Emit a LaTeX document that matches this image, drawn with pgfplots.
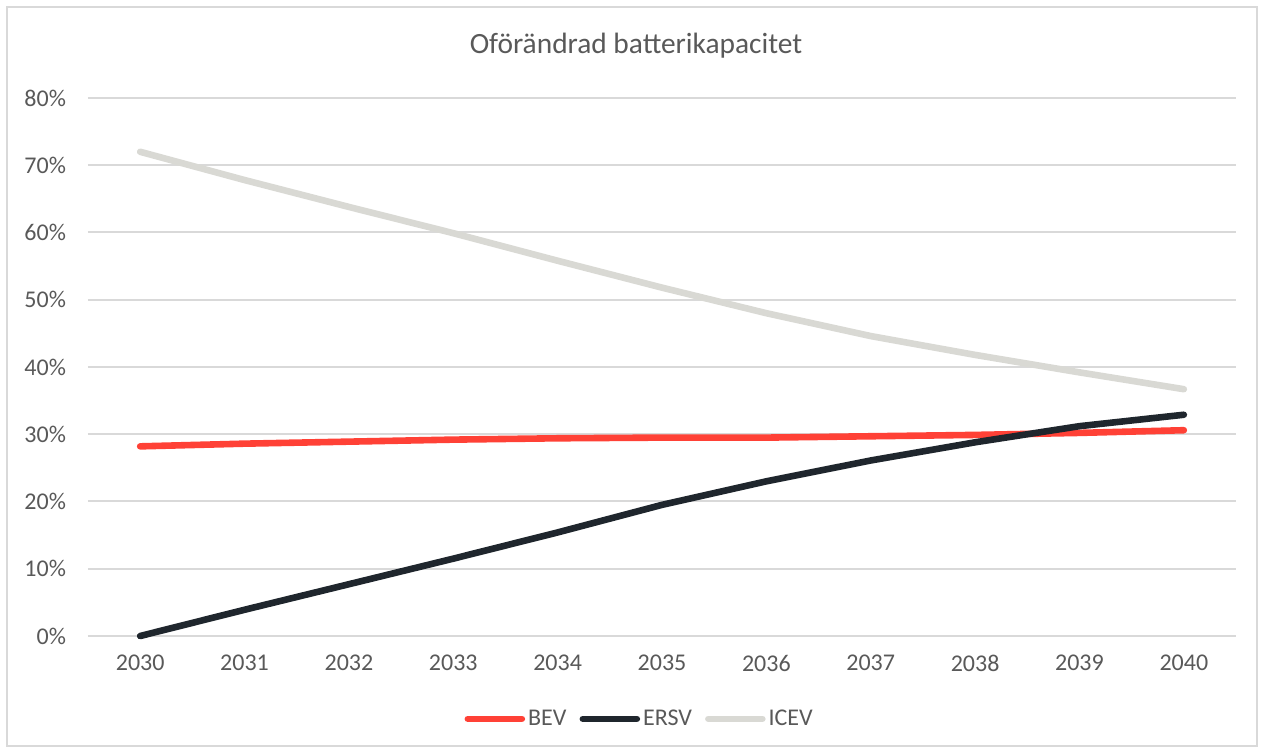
\documentclass[border=0pt]{standalone}
\usepackage{pgfplots}
\pgfplotsset{compat=1.18}
\usepackage{fontspec}
\setmainfont{Carlito}

\definecolor{txt}{HTML}{595959}
\definecolor{gridc}{HTML}{D9D9D9}
\definecolor{bevc}{HTML}{FF4136}
\definecolor{ersvc}{HTML}{1F262D}
\definecolor{icevc}{HTML}{D9D9D4}
\definecolor{framec}{HTML}{D9D9D9}

\pgfplotstableread{
x BEV ERSV ICEV
0 28.2 0.0 72.0
1 28.6 3.9 67.8
2 28.9 7.7 63.8
3 29.2 11.5 59.9
4 29.4 15.4 55.8
5 29.5 19.5 51.8
6 29.5 23.0 48.0
7 29.7 26.1 44.6
8 29.9 28.8 41.8
9 30.2 31.2 39.2
10 30.6 32.9 36.7
}\data

\begin{document}
\begin{tikzpicture}[x=1bp,y=1bp]
\begin{axis}[
  name=ax,
  scale only axis,
  width=574bp, height=269bp,
  xmin=-0.5, xmax=10.5,
  ymin=0, ymax=80,
  xtick={0,...,10},
  xticklabels={2030,2031,2032,2033,2034,2035,2036,2037,2038,2039,2040},
  ytick={0,10,...,80},
  yticklabel={\pgfmathprintnumber{\tick}\%},
  /pgf/number format/assume math mode=true,
  axis y line*=left,
  axis x line*=bottom,
  axis line style={gridc, line width=1bp},
  x axis line style={-},
  y axis line style={draw=none},
  major tick length=0pt,
  ymajorgrids,
  grid style={gridc, line width=1bp},
  tick label style={font=\fontsize{12bp}{14bp}\selectfont, text=txt},
  yticklabel style={xshift=-7.5bp},
  xticklabel style={yshift=-6bp},
  clip=false,
  legend columns=3,
  legend style={draw=none, fill=none, at={(0.481,-0.154)}, anchor=center,
    font=\fontsize{12bp}{14bp}\selectfont, text=txt,
    nodes={inner xsep=1.5bp},
    /tikz/every even column/.append style={column sep=5bp}},
  legend image code/.code={\draw[#1, line cap=round] (0bp,0bp) -- (27bp,0bp);},
  every axis plot/.append style={line width=3.3bp, line cap=round, line join=round},
]
\addplot[bevc] table[x=x, y=BEV] {\data};
\addlegendentry{BEV}
\addplot[ersvc] table[x=x, y=ERSV] {\data};
\addlegendentry{ERSV}
\addplot[icevc] table[x=x, y=ICEV] {\data};
\addlegendentry{ICEV}
\end{axis}
% chart frame and page extent
\path ([shift={(-44bp,-58.5bp)}]ax.south west) rectangle ([shift={(14bp,49bp)}]ax.north east);
\draw[framec, line width=1bp] ([shift={(-40.5bp,-55bp)}]ax.south west) rectangle ([shift={(10.5bp,45.5bp)}]ax.north east);
\node[font=\fontsize{14.7bp}{17bp}\selectfont, text=txt] at ([shift={(274bp,26bp)}]ax.north west) {Oförändrad batterikapacitet};
\end{tikzpicture}
\end{document}
